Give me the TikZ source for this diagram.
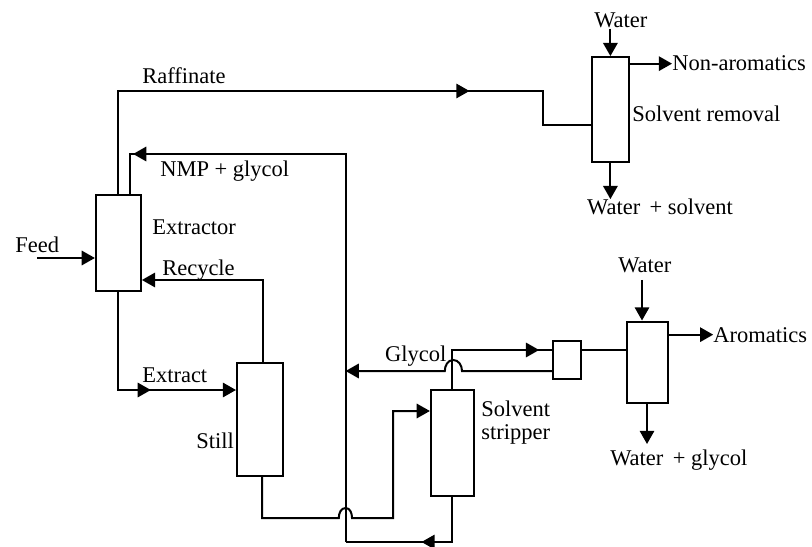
\documentclass[tikz,border=0pt]{standalone}
\usepackage{fontspec}
\setmainfont{Liberation Serif}
\usetikzlibrary{arrows.meta}
\usetikzlibrary{decorations.markings}
\tikzset{
	>={Triangle[length=3.3mm,width=3.6mm]},
	unit/.style={draw,fill=white,line width=0.5mm,inner sep=0,minimum width=#1},
	lbl/.style={font=\fontsize{16}{19}\selectfont,inner sep=0,anchor=base west},
	flow/.style={line width=0.5mm,line join=miter},
	midtip/.style={postaction={decorate},decoration={markings,mark=at position #1 with {\arrow{>}}}}
}

\begin{document}
\begin{tikzpicture}
	\useasboundingbox (0,0) rectangle (20.3,13.65);
	%Columns
	\node [unit=1.125cm,minimum height=2.4cm] (extractor) at (2.96,7.575) {};
	\node [unit=0.925cm,minimum height=2.625cm] (removal) at (15.26,10.91) {};
	\node [unit=1.15cm,minimum height=2.825cm] (still) at (6.5,3.1625) {};
	\node [unit=1.075cm,minimum height=2.65cm] (stripper) at (11.31,2.575) {};
	\node [unit=0.7cm,minimum height=0.95cm] (mixer) at (14.175,4.65) {};
	\node [unit=1.025cm,minimum height=2.025cm] (washer) at (16.19,4.6) {};

	%Labels of the upper part
	\node [lbl] (raffinate) at (3.55,11.55) {Raffinate};
	\node [lbl] (nmp) at (4,9.225) {NMP + glycol};
	\node [lbl] (water1) at (14.85,12.95) {Water};
	\node [lbl] (nonarom) at (16.8,11.875) {Non-aromatics};
	\node [lbl] (removaltext) at (15.8,10.6) {Solvent removal};
	\node [lbl] (wsolvent) at (14.67,8.275) {Water\, + solvent};
	%Labels of the left part
	\node [lbl] (extractortext) at (3.8,7.775) {Extractor};
	\node [lbl] (feed) at (0.38,7.34) {Feed};
	\node [lbl] (recycle) at (4.05,6.775) {Recycle};
	\node [lbl] (extract) at (3.55,4.1) {Extract};
	\node [lbl] (stilltext) at (4.9,2.45) {Still};
	%Labels of the lower right part
	\node [lbl] (glycol) at (9.62,4.625) {Glycol};
	\node [lbl,align=left,anchor=west] (strippertext) at (12.03,3.08) {Solvent\\[-3pt]stripper};
	\node [lbl] (water2) at (15.45,6.825) {Water};
	\node [lbl] (aromatics) at (17.83,5.1) {Aromatics};
	\node [lbl] (wglycol) at (15.25,2.025) {Water\, + glycol};

	%Bends and free ends
	\coordinate (feedin) at (0.925,7.2);
	\coordinate (raffcorner) at (2.96,11.375);
	\coordinate (raffbend) at (13.575,11.375);
	\coordinate (raffdrop) at (13.575,10.525);
	\coordinate (nmpcorner) at (3.25,9.8);
	\coordinate (backtop) at (8.64,9.8);
	\coordinate (backlow) at (8.64,0.1);
	\coordinate (stripdown) at (11.31,0.1);
	\coordinate (recyclecorner) at (6.58,6.65);
	\coordinate (extractcorner) at (2.96,3.9);
	\coordinate (stilldown) at (6.55,0.7);
	\coordinate (stillrise) at (9.825,0.7);
	\coordinate (stillin) at (9.825,3.375);
	\coordinate (glycoltop) at (11.31,4.9);
	\coordinate (glycolback) at (8.64,4.375);
	\coordinate (washin) at (16.05,6.65);
	\coordinate (washout) at (16.175,2.55);

	%Raffinate to the solvent removal
	\draw [flow,midtip=0.745] (extractor.north) -- (raffcorner) -- (raffbend) -- (raffdrop) -- (raffdrop -| removal.west);
	%Around the solvent removal
	\draw [flow,->] (removal.north |- water1.south) -- (removal.north);
	\draw [flow,->] (nonarom.west -| removal.east) -- (nonarom.west);
	\draw [flow,->] (removal.south) -- (removal.south |- wsolvent.north);
	%Feed and recycle
	\draw [flow,->] (feedin) -- (feedin -| extractor.west);
	\draw [flow,->] (recyclecorner |- still.north) -- (recyclecorner) -- (recyclecorner -| extractor.east);
	%Extract to the still
	\draw [flow,->,midtip=0.605] (extractor.south) -- (extractcorner) -- (extractcorner -| still.west);
	%Still to the stripper, with the crossing
	\draw [flow,->] (stilldown |- still.south) -- (stilldown) -- (8.47,0.7) to [out=90,in=180] (8.64,0.95) to [out=0,in=90] (8.8,0.7) -- (stillrise) -- (stillin) -- (stillin -| stripper.west);
	%Stripper bottoms back to the extractor
	\draw [flow,midtip=0.5] (stripper.south) -- (stripdown) -- (backlow);
	\draw [flow,midtip=0.933] (backlow) -- (backtop) -- (nmpcorner) -- (nmpcorner |- extractor.north);
	%Stripper top to the small vessel
	\draw [flow,midtip=0.907] (stripper.north) -- (glycoltop) -- (glycoltop -| mixer.west);
	%Glycol back from the small vessel, with the crossing
	\draw [flow,->] (glycolback -| mixer.west) -- (11.55,4.375) to [out=90,in=0] (11.33,4.65) to [out=180,in=90] (11.12,4.375) -- (glycolback);
	%Small vessel to the washer
	\draw [flow] (glycoltop -| mixer.east) -- (glycoltop -| washer.west);
	%Around the washer
	\draw [flow,->] (washin) -- (washin |- washer.north);
	\draw [flow,->] (aromatics.west -| washer.east) -- (aromatics.west);
	\draw [flow,->] (washout |- washer.south) -- (washout);
\end{tikzpicture}
\end{document}
